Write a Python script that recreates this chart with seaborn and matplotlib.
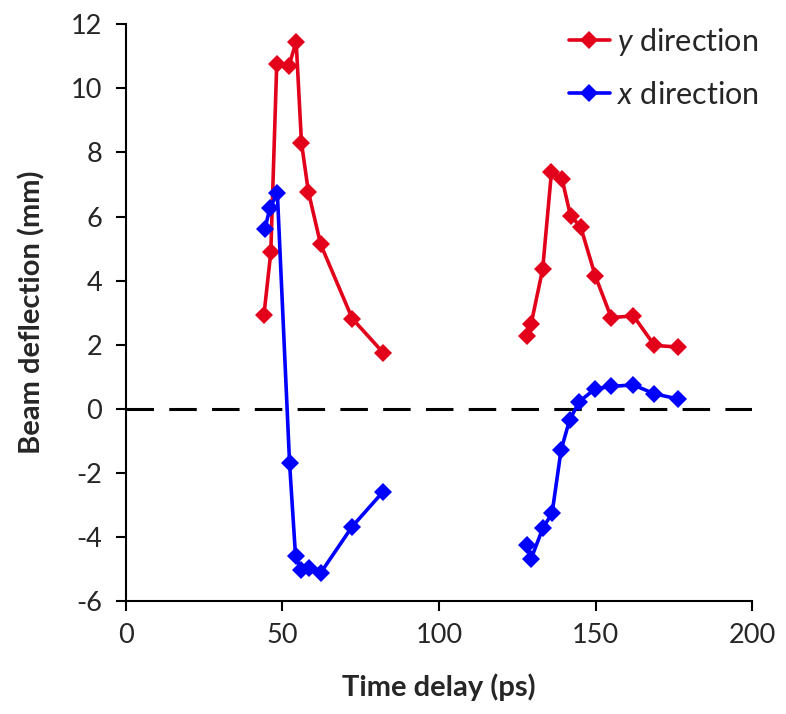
import pandas as pd
import seaborn as sns
import numpy as np
import matplotlib.pyplot as plt

# first pulse, y direction
t_y1 = [44.1, 46.3, 48.2, 52.1, 54.4, 56.1, 58.3, 62.2, 72.3, 82.2]
v_y1 = [2.92, 4.88, 10.75, 10.7, 11.46, 8.3, 6.78, 5.14, 2.82, 1.75]
# second pulse, y direction
t_y2 = [128.1, 129.4, 133.1, 135.9, 139.3, 142.0, 145.2, 149.9, 155.0, 162.1, 168.8, 176.3]
v_y2 = [2.26, 2.64, 4.36, 7.38, 7.17, 6.02, 5.69, 4.15, 2.85, 2.9, 1.98, 1.93]
# first pulse, x direction
t_x1 = [44.4, 46.0, 48.4, 52.3, 54.2, 56.1, 58.5, 62.2, 72.3, 82.2]
v_x1 = [5.6, 6.26, 6.73, -1.70, -4.59, -5.04, -4.96, -5.12, -3.67, -2.58]
# second pulse, x direction
t_x2 = [128.1, 129.4, 133.2, 136.1, 139.0, 141.7, 144.8, 149.9, 155.0, 162.0, 168.8, 176.3]
v_x2 = [-4.26, -4.68, -3.71, -3.26, -1.27, -0.35, 0.23, 0.63, 0.70, 0.75, 0.47, 0.31]

lab_y = r'$\mathit{y}$ direction'
lab_x = r'$\mathit{x}$ direction'

df = pd.concat([
    pd.DataFrame({'t': t_y1, 'v': v_y1, 'dir': lab_y, 'seg': 'y1'}),
    pd.DataFrame({'t': t_y2, 'v': v_y2, 'dir': lab_y, 'seg': 'y2'}),
    pd.DataFrame({'t': t_x1, 'v': v_x1, 'dir': lab_x, 'seg': 'x1'}),
    pd.DataFrame({'t': t_x2, 'v': v_x2, 'dir': lab_x, 'seg': 'x2'}),
])

sns.set_style('ticks')
plt.rcParams['font.family'] = ['Lato', 'DejaVu Sans']
plt.rcParams['mathtext.fontset'] = 'custom'
plt.rcParams['mathtext.it'] = 'Lato:italic'
plt.rcParams['mathtext.rm'] = 'Lato'
plt.rcParams['axes.unicode_minus'] = False

fig = plt.figure(figsize=(7.86, 7.14), dpi=100)
ax = fig.add_axes([0.160, 0.158, 0.797, 0.808])

ax.axhline(0, color='black', lw=2.2, ls=(0, (9, 5)), zorder=1)

sns.lineplot(data=df, x='t', y='v', hue='dir', units='seg', estimator=None,
             palette={lab_y: '#E3001B', lab_x: '#0000FF'},
             marker='D', markersize=9, markeredgewidth=0, lw=2.6,
             sort=False, ax=ax, zorder=3)

ax.set_xlim(0, 200)
ax.set_ylim(-6, 12)
ax.set_xticks([0, 50, 100, 150, 200])
ax.set_yticks(np.arange(-6, 13, 2))
ax.tick_params(labelsize=19.5, length=7, width=1.5, color='black')
ax.tick_params(axis='y', pad=10)
ax.tick_params(axis='x', pad=9)
for s in ['top', 'right']:
    ax.spines[s].set_visible(False)
for s in ['left', 'bottom']:
    ax.spines[s].set_linewidth(1.5)
    ax.spines[s].set_color('black')

ax.set_xlabel('Time delay (ps)', fontsize=21, fontweight='bold', labelpad=18)
ax.set_ylabel('Beam deflection (mm)', fontsize=21, fontweight='bold', labelpad=18)

leg = ax.legend(loc='upper right', frameon=False, fontsize=22,
                handlelength=1.35, handletextpad=0.25, labelspacing=0.75,
                bbox_to_anchor=(1.055, 1.045))

fig.savefig('out.png', dpi=100)
